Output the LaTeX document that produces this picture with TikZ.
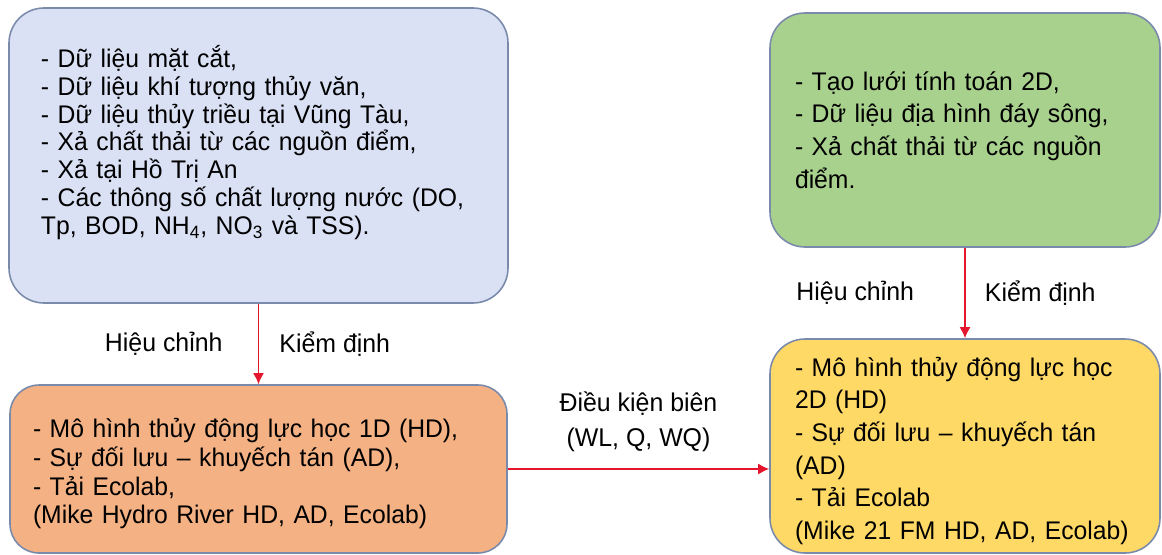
\documentclass[tikz,border=0pt]{standalone}
\usepackage{fontspec}
\setmainfont{Liberation Sans}[FakeStretch=0.97]
\usetikzlibrary{arrows.meta}
\tikzset{every node/.append style={execute at begin node={\hyphenpenalty=10000\exhyphenpenalty=10000\relax}}}
\definecolor{blueA}{HTML}{DAE1F4}
\definecolor{orangeB}{HTML}{F4B183}
\definecolor{greenC}{HTML}{A9D18E}
\definecolor{yellowD}{HTML}{FFD966}
\definecolor{edgegray}{HTML}{7A8AAB}
\definecolor{arrred}{HTML}{E3162E}

\begin{document}
\begin{tikzpicture}[
  box/.style={draw=edgegray, line width=0.9pt, rectangle, rounded corners=0.7cm,
              align=left, inner ysep=0pt, font=\fontsize{14.5}{15.8}\selectfont},
  lb/.style={font=\fontsize{14.6}{19.9}\selectfont, inner sep=1.5pt},
  ar/.style={-{Latex[length=2.2mm, width=2.2mm]}, line width=0.9pt, draw=arrred, fill=arrred},
]
\useasboundingbox (0,0) rectangle (23.24,-11.08);

\node[box, fill=blueA, minimum height=5.90cm, inner xsep=0.64cm, text width=8.70cm] (inp1) at (5.17,-3.11)
  {- Dữ liệu mặt cắt,\\- Dữ liệu khí tượng thủy văn,\\- Dữ liệu thủy triều tại Vũng Tàu,\\- Xả chất thải từ các nguồn điểm,\\- Xả tại Hồ Trị An\\- Các thông số chất lượng nước (DO,\\Tp, BOD, NH\textsubscript{4}, NO\textsubscript{3} và TSS).\\[2pt]\mbox{}};
\node[box, fill=orangeB, rounded corners=0.58cm, minimum height=3.36cm, inner xsep=0.46cm, text width=9.02cm,
      font=\fontsize{14.5}{16.3}\selectfont] (mod1) at (5.17,-9.38)
  {\rule{0pt}{16.5pt}- Mô hình thủy động lực học 1D (HD),\\- Sự đối lưu – khuyếch tán (AD),\\- Tải Ecolab,\\(Mike Hydro River HD, AD, Ecolab)};

\node[box, fill=greenC, minimum height=4.68cm, inner xsep=0.5cm, text width=6.8cm,
      font=\fontsize{14.5}{18.6}\selectfont] (inp2) at (19.30,-2.60)
  {- Tạo lưới tính toán 2D,\\- Dữ liệu địa hình đáy sông,\\- Xả chất thải từ các nguồn\\điểm.};
\node[box, fill=yellowD, minimum height=4.28cm, inner xsep=0.5cm, text width=6.8cm,
      font=\fontsize{14.5}{18.6}\selectfont] (mod2) at (19.30,-8.92)
  {\rule{0pt}{16.5pt}- Mô hình thủy động lực học\\2D (HD)\\- Sự đối lưu – khuyếch tán\\(AD)\\- Tải Ecolab\\(Mike 21 FM HD, AD, Ecolab)};

\draw[ar] (inp1) -- node[lb, left=0.65cm] {Hiệu chỉnh} node[lb, right=0.35cm] {Kiểm định} (mod1);
\draw[ar] (inp2) -- node[lb, left=0.95cm] {Hiệu chỉnh} node[lb, right=0.33cm] {Kiểm định} (mod2);
\draw[ar] (mod1.east) -- node[lb, above=0.27cm, align=center] {Điều kiện biên\\(WL, Q, WQ)} (mod1.east -| mod2.west);
\end{tikzpicture}
\end{document}
